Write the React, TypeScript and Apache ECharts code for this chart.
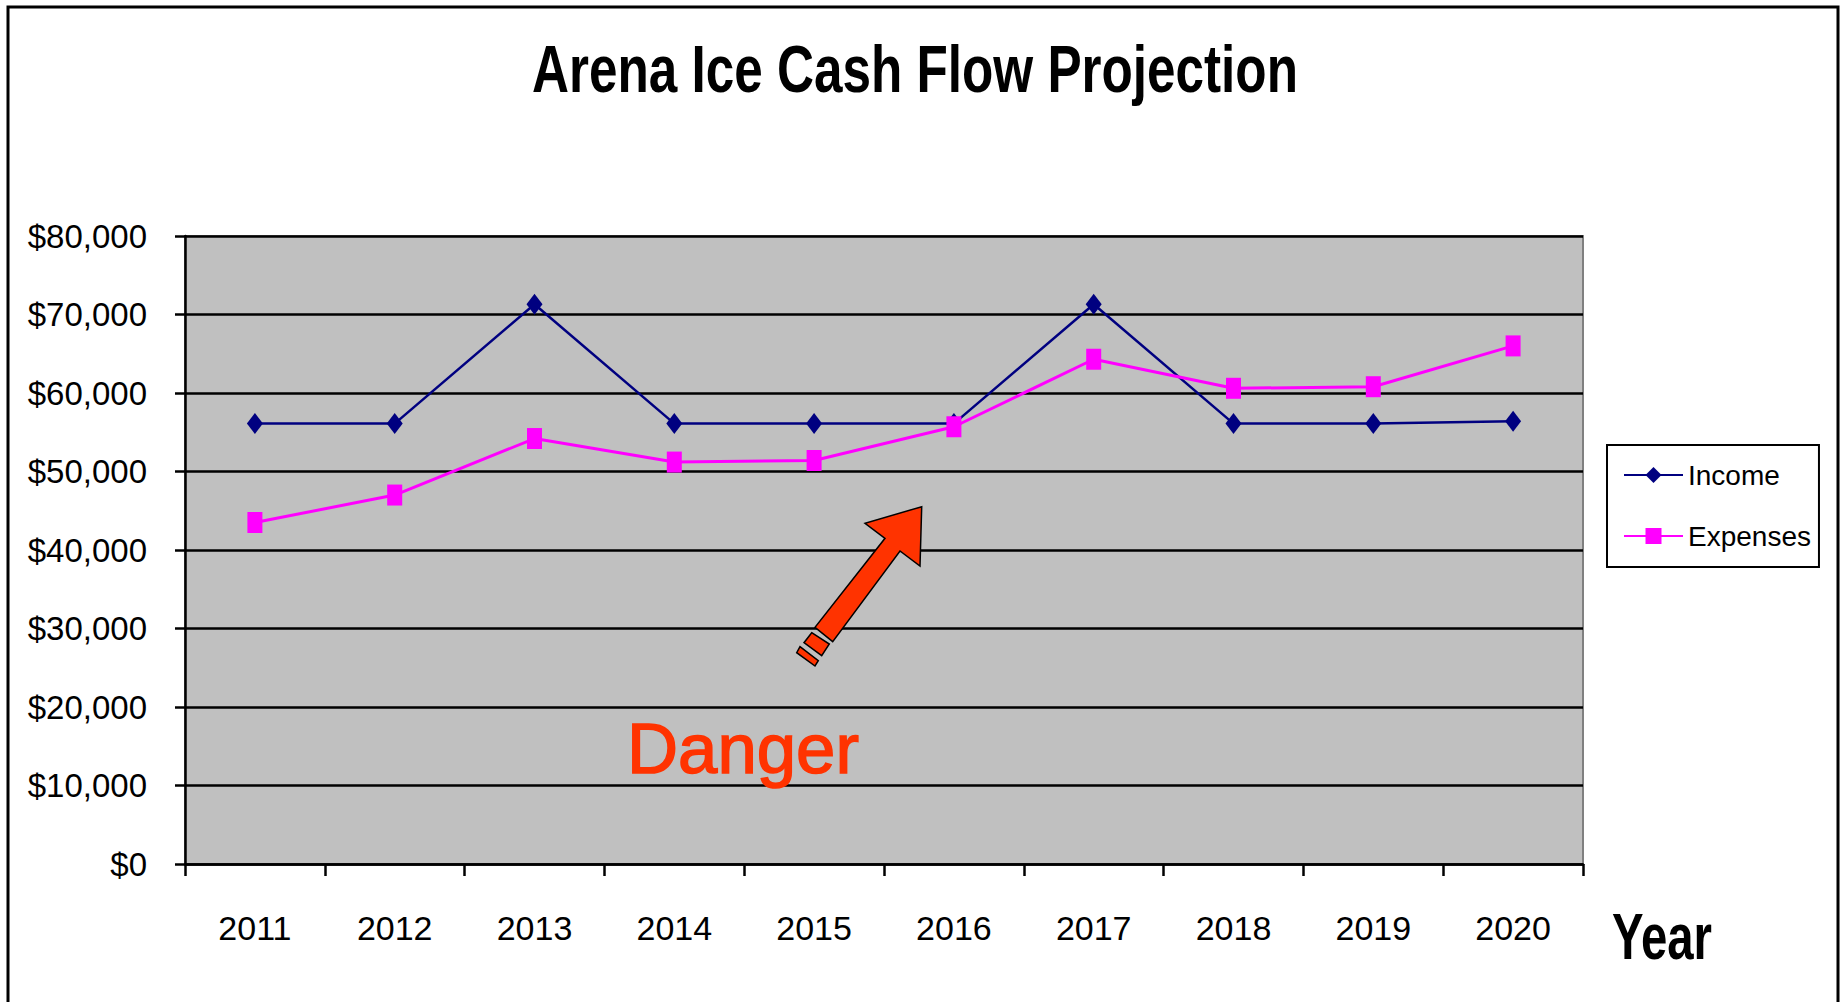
import React, { useEffect, useRef } from "react";
import * as echarts from "echarts";

const years = ["2011", "2012", "2013", "2014", "2015", "2016", "2017", "2018", "2019", "2020"];
const income = [56100, 56100, 71300, 56100, 56100, 56100, 71300, 56100, 56100, 56400];
const expenses = [43500, 47000, 54200, 51200, 51400, 55700, 64300, 60600, 60800, 66000];
const yMin = 0;
const yMax = 80000;
const yStep = 10000;
const titleText = "Arena Ice Cash Flow Projection";
const xAxisTitle = "Year";
const noteText = "Danger";

const NARROW = "'Liberation Sans Narrow', 'Arial Narrow', 'Liberation Sans', Arial, sans-serif";
const WIDE = "'Liberation Sans', Arial, sans-serif";

export default function App() {
  const ref = useRef<HTMLDivElement>(null);
  useEffect(() => {
    if (!ref.current) return;
    const chart = echarts.init(ref.current, null, { renderer: "svg" });
    const option: any = {
      animation: false,
      backgroundColor: "#ffffff",
      grid: {
        left: 185,
        right: 264,
        top: 236,
        bottom: 138,
        containLabel: false,
        show: true,
        backgroundColor: "#c0c0c0",
        borderColor: "#808080",
        borderWidth: 2,
      },
      legend: {
        orient: "vertical",
        left: 1607,
        top: 445,
        padding: [16, 8, 17, 16],
        itemGap: 33,
        itemWidth: 59,
        itemHeight: 20,
        borderColor: "#000",
        borderWidth: 2,
        backgroundColor: "#fff",
        textStyle: { fontSize: 28, fontFamily: NARROW, color: "#000" },
        data: ["Income", "Expenses"],
      },
      xAxis: {
        type: "category",
        data: years,
        boundaryGap: true,
        axisLine: { show: true, lineStyle: { color: "#000", width: 2.5 } },
        axisTick: { show: true, inside: false, length: 12, interval: 0, lineStyle: { color: "#000", width: 2.5 } },
        axisLabel: { fontSize: 34, fontFamily: NARROW, color: "#000", margin: 47, interval: 0 },
        splitLine: { show: false },
      },
      yAxis: {
        type: "value",
        min: yMin,
        max: yMax,
        interval: yStep,
        axisLine: { show: true, lineStyle: { color: "#000", width: 2.5 } },
        axisTick: { show: true, inside: false, length: 10, lineStyle: { color: "#000", width: 2.5 } },
        axisLabel: {
          fontSize: 33,
          fontFamily: NARROW,
          color: "#000",
          margin: 38,
          formatter: (v: number) => "$" + v.toLocaleString("en-US"),
        },
        splitLine: { show: true, lineStyle: { color: "#000", width: 2.5 } },
      },
      series: [
        {
          name: "Income",
          type: "line",
          data: income,
          symbol: "diamond",
          symbolSize: [16, 21],
          lineStyle: { color: "#000080", width: 2.5 },
          itemStyle: { color: "#000080" },
          z: 3,
        },
        {
          name: "Expenses",
          type: "line",
          data: expenses,
          symbol: "rect",
          symbolSize: [15, 21],
          lineStyle: { color: "#ff00ff", width: 3 },
          itemStyle: { color: "#ff00ff" },
          z: 4,
        },
      ],
      graphic: [
        {
          type: "text",
          x: 915,
          y: 69,
          scaleX: 0.765,
          z: 20,
          style: {
            text: titleText,
            x: 0,
            y: 0,
            fill: "#000",
            font: "bold 67px " + WIDE,
            align: "center",
            verticalAlign: "middle",
            textAlign: "center",
            textVerticalAlign: "middle",
          },
        },
        {
          type: "text",
          x: 1662,
          y: 937,
          scaleX: 0.74,
          z: 20,
          style: {
            text: xAxisTitle,
            x: 0,
            y: 0,
            fill: "#000",
            font: "bold 64px " + WIDE,
            align: "center",
            verticalAlign: "middle",
            textAlign: "center",
            textVerticalAlign: "middle",
          },
        },
        {
          type: "text",
          x: 743,
          y: 749,
          scaleX: 1.01,
          z: 20,
          style: {
            text: noteText,
            x: 0,
            y: 0,
            fill: "#ff3300",
            stroke: "#ff3300",
            lineWidth: 1.5,
            font: "70px " + WIDE,
            align: "center",
            verticalAlign: "middle",
            textAlign: "center",
            textVerticalAlign: "middle",
          },
        },
        {
          type: "polygon",
          z: 20,
          shape: {
            points: [
              [921.7, 506.7],
              [920, 566],
              [900, 551],
              [832.7, 641.7],
              [815, 627.3],
              [885, 538.3],
              [865, 523.3],
            ],
          },
          style: { fill: "#ff3300", stroke: "#000", lineWidth: 1.5 },
        },
        {
          type: "polygon",
          z: 20,
          shape: {
            points: [
              [811.7, 632.7],
              [829.3, 644],
              [821.7, 655.7],
              [804, 642.7],
            ],
          },
          style: { fill: "#ff3300", stroke: "#000", lineWidth: 1.5 },
        },
        {
          type: "polygon",
          z: 20,
          shape: {
            points: [
              [800, 646.7],
              [818.3, 660.7],
              [815, 666],
              [796.7, 652.7],
            ],
          },
          style: { fill: "#ff3300", stroke: "#000", lineWidth: 1.5 },
        },
        {
          type: "rect",
          z: 30,
          shape: { x: 8, y: 7, width: 1830, height: 1010 },
          style: { fill: "none", stroke: "#000", lineWidth: 3 },
        },
      ],
    };
    chart.setOption(option);
    return () => chart.dispose();
  }, []);
  return (
    <div
      ref={ref}
      style={{ position: "fixed", left: 0, top: 0, width: 1847, height: 1002 }}
    />
  );
}
